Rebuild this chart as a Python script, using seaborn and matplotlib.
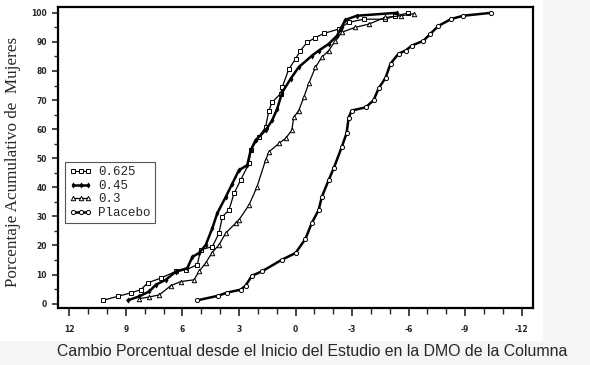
import numpy as np
import pandas as pd
import seaborn as sns
import matplotlib.pyplot as plt
from matplotlib.patches import Rectangle
from matplotlib.ticker import MultipleLocator

# cambio porcentual (eje x) y porcentaje acumulativo (eje y)
chg_0625 = [10.23, 9.44, 8.73, 8.2, 7.85, 7.14, 6.35, 5.82, 5.21, 5.03, 4.41, 4.06,
            3.88, 3.53, 3.26, 2.91, 2.47, 2.38, 1.94, 1.59, 1.41, 1.24, 0.79, 0.71,
            0.35, 0.0, -0.26, -0.61, -1.06, -1.5, -2.29, -2.82, -3.62, -4.76, -5.29, -5.99]
pct_0625 = [1.1, 2.5, 3.7, 4.8, 7.1, 8.8, 11.1, 11.6, 13.4, 18.5, 19.6, 24.2,
            29.9, 32.2, 37.9, 42.5, 48.2, 52.7, 57.3, 60.7, 66.4, 69.3, 72.2, 74.4,
            80.7, 84.1, 87.0, 89.8, 91.5, 92.9, 94.4, 96.7, 97.8, 97.8, 99.0, 99.9]

chg_045 = [8.91, 8.29, 7.76, 7.41, 6.88, 6.35, 5.74, 5.47, 5.12, 4.76, 4.41, 4.15,
           3.7, 3.35, 3.0, 2.56, 2.38, 2.12, 1.59, 1.24, 0.97, 0.71, 0.26, -0.17,
           -0.88, -1.23, -1.76, -2.2, -2.45, -2.65, -3.26, -5.38]
pct_045 = [1.1, 2.5, 4.2, 6.5, 8.2, 11.0, 12.2, 16.1, 17.4, 20.2, 26.0, 31.1,
           36.7, 41.3, 45.9, 47.6, 52.7, 56.2, 59.6, 63.0, 67.0, 72.6, 77.3, 81.3,
           85.3, 87.0, 89.3, 92.1, 95.2, 97.6, 99.0, 100.0]

chg_03 = [8.29, 7.76, 7.23, 6.61, 6.08, 5.38, 5.12, 4.76, 4.43, 4.06, 3.7, 3.17,
          3.0, 2.47, 2.05, 1.59, 1.41, 0.88, 0.53, 0.2, 0.09, -0.17, -0.44, -0.7,
          -1.06, -1.39, -1.76, -2.12, -2.45, -3.17, -3.88, -4.76, -5.62, -6.3]
pct_03 = [1.7, 2.3, 3.0, 6.2, 7.6, 8.2, 11.1, 14.0, 17.5, 20.2, 24.3, 27.7,
          28.8, 33.9, 40.0, 49.3, 52.2, 55.1, 56.8, 59.6, 64.1, 66.4, 70.9, 75.7,
          81.3, 84.7, 87.0, 90.4, 93.3, 95.0, 96.1, 98.4, 99.0, 99.7]

chg_plac = [5.24, 4.11, 3.63, 2.91, 2.65, 2.31, 1.78, 0.72, 0.0, -0.53, -0.86, -1.23,
            -1.39, -1.76, -2.03, -2.45, -2.71, -2.82, -2.98, -3.72, -4.14, -4.41,
            -4.78, -5.04, -5.47, -5.84, -6.16, -6.79, -7.16, -7.58, -8.27, -8.9, -10.39]
pct_plac = [1.1, 2.7, 3.8, 4.8, 6.2, 9.6, 11.1, 15.1, 17.4, 22.3, 27.7, 32.2,
            36.6, 42.5, 46.6, 53.8, 58.6, 64.0, 66.4, 67.5, 69.9, 74.0,
            77.7, 82.5, 86.0, 87.0, 88.7, 90.4, 92.8, 95.5, 97.9, 99.0, 100.0]

labels = ["0.625", "0.45", "0.3", "Placebo"]

sns.set_style("ticks")
fig = plt.figure(figsize=(5.9, 3.65), dpi=100, facecolor="#f5f5f5")
fig.patches.append(Rectangle((0, 0.065), 0.92, 0.935, transform=fig.transFigure,
                             facecolor="white", edgecolor="none", zorder=-1))
ax = fig.add_axes([58 / 590, 1 - 308 / 365, 475 / 590, 301 / 365])
ax.set_facecolor("white")

series = [
    (chg_0625, pct_0625, dict(marker="s", markersize=3.2, markerfacecolor="white",
                              markeredgecolor="black", markeredgewidth=0.7, linewidth=0.9)),
    (chg_045, pct_045, dict(marker="d", markersize=2.6, markerfacecolor="black",
                            markeredgecolor="black", markeredgewidth=0.5, linewidth=1.8)),
    (chg_03, pct_03, dict(marker="^", markersize=3.2, markerfacecolor="white",
                          markeredgecolor="black", markeredgewidth=0.7, linewidth=0.9)),
    (chg_plac, pct_plac, dict(marker="o", markersize=3.0, markerfacecolor="white",
                              markeredgecolor="black", markeredgewidth=0.7, linewidth=1.8)),
]
for (xs, ys, kw), lab in zip(series, labels):
    df = pd.DataFrame({"cambio": xs, "pct": ys})
    sns.lineplot(data=df, x="cambio", y="pct", sort=False, estimator=None,
                 color="black", label=lab, ax=ax, **kw)

ax.set_xlim(12.6, -12.6)
ax.set_ylim(-1.5, 102)
ax.xaxis.set_major_locator(MultipleLocator(3))
ax.xaxis.set_minor_locator(MultipleLocator(1))
ax.yaxis.set_major_locator(MultipleLocator(10))
ax.yaxis.set_minor_locator(MultipleLocator(5))
ax.set_xticklabels([f"{int(v)}" for v in ax.get_xticks()])
ax.tick_params(axis="x", which="major", length=6, width=1.2, pad=6, labelsize=5.5)
ax.tick_params(axis="x", which="minor", length=4, width=1.0)
ax.tick_params(axis="y", which="major", length=4, width=1.2, pad=4, labelsize=5.5)
ax.tick_params(axis="y", which="minor", length=3, width=1.0)
for t in ax.get_xticklabels() + ax.get_yticklabels():
    t.set_fontweight("bold")
for s in ax.spines.values():
    s.set_linewidth(1.6)
    s.set_color("black")

ax.set_xlabel("Cambio Porcentual desde el Inicio del Estudio en la DMO de la Columna",
              fontsize=11.45, family="Liberation Sans")
ax.xaxis.set_label_coords(0.535, -0.12)
ax.set_ylabel("Porcentaje Acumulativo de  Mujeres", fontsize=12.3, family="Liberation Serif")
ax.yaxis.set_label_coords(-0.078, 0.485)

leg = ax.legend(loc="upper left", bbox_to_anchor=(0.015, 0.485), borderaxespad=0,
                numpoints=3, handlelength=1.8, handletextpad=0.5, labelspacing=0.12,
                borderpad=0.35, fancybox=False, framealpha=1,
                prop={"family": "Liberation Mono", "size": 9})
leg.get_frame().set_edgecolor("#555555")
leg.get_frame().set_linewidth(0.8)

fig.savefig("out.png", dpi=100, facecolor=fig.get_facecolor())
